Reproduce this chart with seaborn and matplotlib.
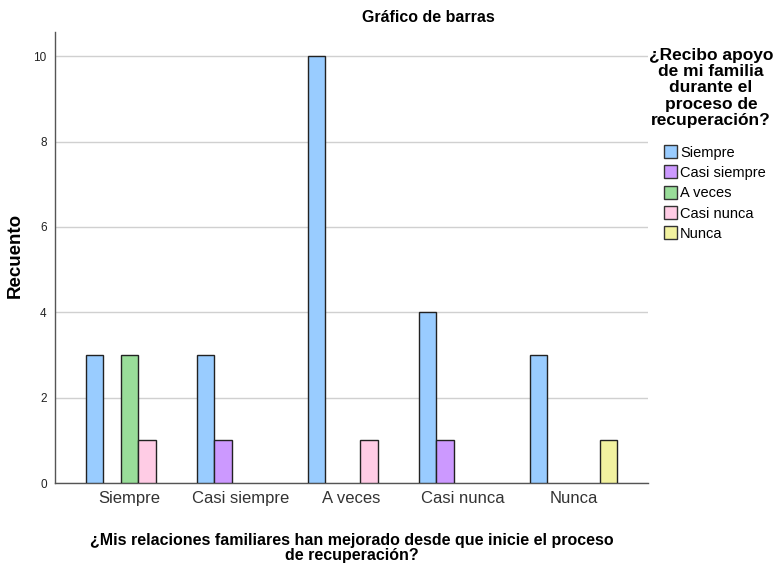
import numpy as np
import pandas as pd
import matplotlib
matplotlib.use("Agg")
import matplotlib.pyplot as plt
import seaborn as sns
from matplotlib.patches import Patch

categorias = ["Siempre", "Casi siempre", "A veces", "Casi nunca", "Nunca"]
apoyo = ["Siempre", "Casi siempre", "A veces", "Casi nunca", "Nunca"]

# recuento por categoria de relaciones (filas) y apoyo familiar (columnas)
rec_siempre = [3, 0, 3, 1, 0]
rec_casi_siempre = [3, 1, 0, 0, 0]
rec_a_veces = [10, 0, 0, 1, 0]
rec_casi_nunca = [4, 1, 0, 0, 0]
rec_nunca = [3, 0, 0, 0, 1]

colores = ["#99CCFF", "#CC99FF", "#99DD99", "#FFCCE5", "#F2F2A0"]

filas = []
for cat, valores in zip(categorias, [rec_siempre, rec_casi_siempre, rec_a_veces, rec_casi_nunca, rec_nunca]):
    for a, v in zip(apoyo, valores):
        if v > 0:
            filas.append({"relaciones": cat, "apoyo": a, "recuento": v})
df = pd.DataFrame(filas)

sns.set_theme(style="white")
plt.rcParams["font.family"] = ["Liberation Sans", "DejaVu Sans"]
plt.rcParams["text.color"] = "black"

fig = plt.figure(figsize=(7.75, 5.65), dpi=100)
ax = fig.add_axes([0.071, 0.145, 0.765, 0.798])

sns.barplot(data=df, x="relaciones", y="recuento", hue="apoyo",
            order=categorias, hue_order=apoyo, palette=colores, saturation=1,
            width=0.79, edgecolor="#222222", linewidth=1.0,
            errorbar=None, legend=False, ax=ax, zorder=3)

ax.set_xlim(-0.67, 4.67)
ax.set_ylim(0, 10.56)
ax.set_yticks([0, 2, 4, 6, 8, 10])
ax.yaxis.grid(True, color="#d0d0d0", linewidth=1.0, zorder=0)
ax.set_axisbelow(True)
for s in ["top", "right"]:
    ax.spines[s].set_visible(False)
for s in ["left", "bottom"]:
    ax.spines[s].set_color("#555555")
    ax.spines[s].set_linewidth(1.0)
ax.tick_params(axis="y", labelsize=8.5, colors="#222222", length=0, pad=6)
ax.tick_params(axis="x", labelsize=12, colors="#333333", length=0, pad=6)

ax.set_xlabel("¿Mis relaciones familiares han mejorado desde que inicie el proceso\nde recuperación?",
              fontsize=11.5, fontweight="bold", labelpad=19, linespacing=1.05, color="black")
ax.set_ylabel("")
fig.text(15 / 775, 1 - 255 / 565, "Recuento", rotation=90, ha="center", va="center",
         fontsize=13.5, fontweight="bold")

fig.text(428 / 775, 1 - 18 / 565, "Gráfico de barras", ha="center", va="center",
         fontsize=11.5, fontweight="bold")

fig.text(711 / 775, 1 - 88 / 565,
         "¿Recibo apoyo\nde mi familia\ndurante el\nproceso de\nrecuperación?",
         ha="center", va="center", multialignment="center",
         fontsize=12.5, fontweight="bold", linespacing=1.1)

handles = [Patch(facecolor=c, edgecolor="#333333", label=l) for c, l in zip(colores, apoyo)]
fig.legend(handles=handles, loc="upper left", bbox_to_anchor=(664 / 775, 1 - 145 / 565),
           frameon=False, fontsize=10.5, handlelength=0.9, handleheight=1.0,
           handletextpad=0.2, labelspacing=0.4, borderaxespad=0, borderpad=0)

fig.savefig("out.png", dpi=100)
